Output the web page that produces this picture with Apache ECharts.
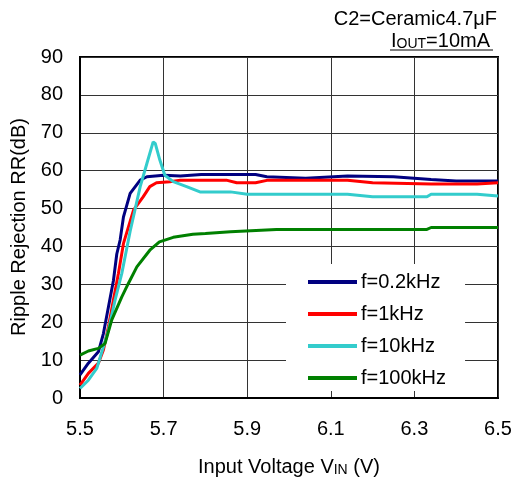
<!DOCTYPE html>
<html>
<head>
<meta charset="utf-8">
<script src="https://cdn.jsdelivr.net/npm/echarts@6/dist/echarts.min.js"></script>
<style>
	html, body { margin: 0; padding: 0; background: #fff; }
	#chart { width: 518px; height: 483px; }
</style>
</head>
<body>
<div id="chart"></div>
<script>
	// f=0.2kHz
	var vin02 = [5.5, 5.52, 5.544, 5.556, 5.568, 5.58, 5.588, 5.596, 5.604, 5.62, 5.644, 5.66, 5.70, 5.74, 5.79, 5.92, 5.947, 6.04, 6.14, 6.25, 6.34, 6.40, 6.5]
	var rr02 = [6.1, 9.2, 12.2, 17, 24, 31, 38, 41.7, 47.8, 54, 57.5, 58.4, 58.8, 58.6, 59, 59, 58.4, 58, 58.6, 58.4, 57.7, 57.3, 57.3]
	// f=1kHz
	var vin1 = [5.5, 5.52, 5.544, 5.556, 5.568, 5.58, 5.592, 5.604, 5.628, 5.651, 5.667, 5.683, 5.715, 5.74, 5.85, 5.875, 5.92, 5.95, 6.14, 6.2, 6.34, 6.45, 6.5]
	var rr1 = [3.4, 6.5, 9.2, 12.7, 18.8, 25.9, 32.9, 40.8, 49.6, 53.1, 55.8, 56.8, 57.1, 57.5, 57.5, 56.8, 56.8, 57.5, 57.5, 56.8, 56.5, 56.5, 56.8]
	// f=10kHz
	var vin10 = [5.5, 5.52, 5.54, 5.556, 5.568, 5.584, 5.6, 5.62, 5.644, 5.66, 5.675, 5.68, 5.691, 5.703, 5.723, 5.755, 5.787, 5.86, 5.9, 6.14, 6.2, 6.33, 6.34, 6.45, 6.5]
	var rr10 = [2.5, 4.7, 7.8, 13.5, 17.9, 25.9, 32.9, 44, 55.8, 61.9, 67.6, 67.2, 62.8, 58.8, 57.1, 55.8, 54.4, 54.4, 53.8, 53.8, 53.1, 53.1, 53.8, 53.8, 53.3]
	// f=100kHz
	var vin100 = [5.5, 5.52, 5.544, 5.56, 5.576, 5.6, 5.616, 5.636, 5.667, 5.69, 5.723, 5.77, 5.80, 5.86, 5.97, 6.33, 6.34, 6.5]
	var rr100 = [11.3, 12.4, 13.1, 14.4, 20.6, 26.7, 30.3, 34.6, 39, 41.2, 42.4, 43.2, 43.4, 43.9, 44.5, 44.5, 45, 45]

	var names = ['f=0.2kHz', 'f=1kHz', 'f=10kHz', 'f=100kHz']
	var colors = ['#000080', '#ff0000', '#33cccc', '#008000']

	function pairs(xs, ys) {
		return xs.map(function (x, i) { return [x, ys[i]] })
	}
	var data = [pairs(vin02, rr02), pairs(vin1, rr1), pairs(vin10, rr10), pairs(vin100, rr100)]

	var font = '"Liberation Sans", Arial, sans-serif'
	var chart = echarts.init(document.getElementById('chart'))
	var option = {
		animation: false,
		textStyle: { fontFamily: font },
		grid: {
			left: 80, right: 20, top: 57, bottom: 85,
			show: true, borderColor: '#000', borderWidth: 2
		},
		legend: {
			orient: 'vertical',
			left: 286, top: 264,
			padding: [8, 19, 3, 22],
			backgroundColor: '#fff',
			itemGap: 12,
			itemWidth: 49,
			itemHeight: 4,
			icon: 'rect',
			data: names,
			textStyle: { fontSize: 20, color: '#000', fontFamily: font, padding: [0, 0, 0, -1] }
		},
		xAxis: {
			type: 'value',
			min: 5.5, max: 6.5, interval: 0.2,
			name: 'Input Voltage V{s|IN} (V)',
			nameLocation: 'middle',
			nameGap: 59,
			nameTextStyle: {
				fontSize: 20, color: '#000', fontFamily: font,
				rich: { s: { fontSize: 14, color: '#000', fontFamily: font, verticalAlign: 'bottom', padding: [5, 0, 0, 0] } }
			},
			axisLine: { show: true, lineStyle: { color: '#000', width: 2 } },
			axisTick: { show: false },
			axisLabel: {
				fontSize: 20, color: '#000', margin: 21,
				formatter: function (v) { return v.toFixed(1) }
			},
			splitLine: { show: true, lineStyle: { color: '#333', width: 1 } }
		},
		yAxis: {
			type: 'value',
			min: 0, max: 90, interval: 10,
			axisLine: { show: true, lineStyle: { color: '#000', width: 2 } },
			axisTick: { show: false },
			axisLabel: { fontSize: 20, color: '#000', margin: 17 },
			splitLine: { show: true, lineStyle: { color: '#333', width: 1 } }
		},
		graphic: [
			{
				type: 'text', right: 21, top: 9,
				style: { text: 'C2=Ceramic4.7μF', font: '20px ' + font, fill: '#000' }
			},
			{
				type: 'text', right: 28, top: 31,
				style: {
					text: 'I{s|OUT}=10mA', font: '20px ' + font, fill: '#000',
					rich: { s: { fontSize: 14, fontFamily: font, fill: '#000', verticalAlign: 'bottom', padding: [5, 0, 0, 0] } }
				}
			},
			{
				type: 'line',
				shape: { x1: 390, y1: 50, x2: 493, y2: 50 },
				style: { stroke: '#000', lineWidth: 1 }
			},
			{
				type: 'text', x: 19, y: 227, rotation: Math.PI / 2,
				style: {
					text: 'Ripple Rejection RR(dB)', font: '20px ' + font, fill: '#000',
					align: 'center', verticalAlign: 'middle'
				}
			}
		],
		series: names.map(function (n, i) {
			return {
				name: n,
				type: 'line',
				data: data[i],
				showSymbol: false,
				symbol: 'none',
				color: colors[i],
				lineStyle: { width: 3, color: colors[i] },
				z: 3 + i
			}
		})
	}
	chart.setOption(option)
</script>
</body>
</html>
